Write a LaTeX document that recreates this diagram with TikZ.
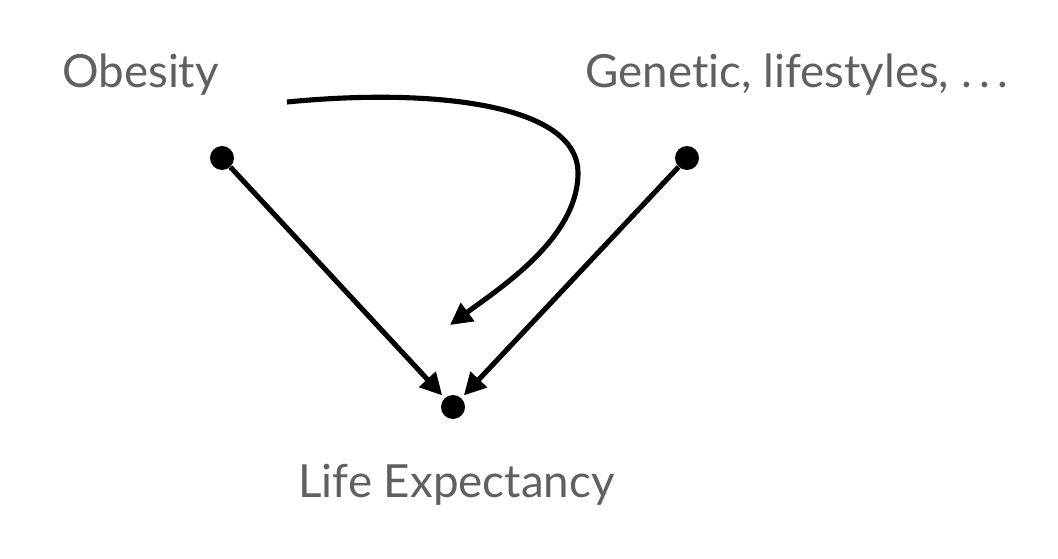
\documentclass[tikz,border=0pt]{standalone}
\usepackage{fontspec}
\setmainfont[Ligatures={NoCommon,NoRequired,NoContextual}]{Lato}
\usetikzlibrary{arrows.meta}
\definecolor{labelgray}{RGB}{96,96,96}

\begin{document}
\begin{tikzpicture}[
  dot/.style={circle,fill=black,inner sep=0pt,minimum size=0.48cm},
  lbl/.style={anchor=base west,inner sep=0pt,text=labelgray,font=\fontsize{26}{31}\selectfont},
  edge/.style={line width=2.9pt,-{Triangle[length=12.5pt,width=12.5pt]}}
]
\useasboundingbox (0,0) rectangle (21.16,11.16);

\node[lbl] (obesity) at (1.24,9.42) {Obesity};
\node[lbl] (genetic) at (11.70,9.42) {Genetic, lifestyles, .\,.\,.};
\node[lbl] (life) at (5.96,1.22) {Life Expectancy};

\node[dot] (obs) at (4.44,8.00) {};
\node[dot] (gen) at (13.74,8.00) {};
\node[dot] (exp) at (9.06,3.02) {};

\draw[edge,shorten >=2pt] (obs) -- (exp);
\draw[edge,shorten >=2pt] (gen) -- (exp);

% effect on the arrow itself
\coordinate (cstart) at (5.74,9.12);
\coordinate (cend) at (9.00,4.66);
\draw[edge] (cstart) .. controls (8.60,9.40) and (11.56,9.10) .. (11.56,7.70)
  .. controls (11.56,6.40) and (10.00,5.40) .. (cend);
\end{tikzpicture}
\end{document}
